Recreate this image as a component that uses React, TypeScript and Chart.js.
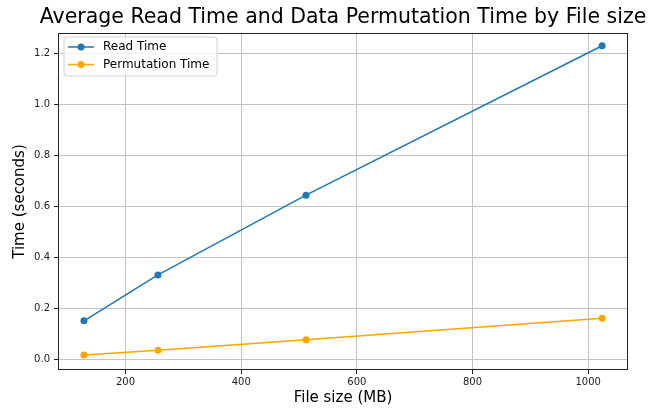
import { useEffect, useRef } from "react";
import { Chart, registerables } from "chart.js";

Chart.register(...registerables);

const fileSizes = [128, 256, 512, 1024];
const readTime = [0.153, 0.333, 0.646, 1.232];
const permTime = [0.019, 0.037, 0.079, 0.163];
const xTicks = [200, 400, 600, 800, 1000];
const yTicks = [0, 0.2, 0.4, 0.6, 0.8, 1.0, 1.2];
const seriesNames = ["Read Time", "Permutation Time"];
const seriesColors = ["#1f77b4", "#ffa500"];
const titleText = "Average Read Time and Data Permutation Time by File size";
const xLabel = "File size (MB)";
const yLabel = "Time (seconds)";

const FONT = "'DejaVu Sans', sans-serif";

export default function App() {
  const ref = useRef<HTMLCanvasElement | null>(null);

  useEffect(() => {
    document.body.style.margin = "0";
    const canvas = ref.current;
    if (!canvas) return;

    const overlay = {
      id: "overlay",
      afterDraw(chart: any) {
        const ctx = chart.ctx as CanvasRenderingContext2D;
        const a = chart.chartArea;
        ctx.save();
        // frame
        ctx.strokeStyle = "#222";
        ctx.lineWidth = 1;
        ctx.strokeRect(a.left + 0.5, a.top + 0.5, a.right - a.left - 1, a.bottom - a.top - 1);
        // title
        ctx.fillStyle = "#000";
        ctx.textAlign = "center";
        ctx.textBaseline = "middle";
        ctx.font = `20.5px ${FONT}`;
        ctx.fillText(titleText, (a.left + a.right) / 2, 18);
        // x label
        ctx.font = `15px ${FONT}`;
        ctx.fillText(xLabel, (a.left + a.right) / 2, 398);
        // y label
        ctx.save();
        ctx.translate(20, (a.top + a.bottom) / 2);
        ctx.rotate(-Math.PI / 2);
        ctx.fillText(yLabel, 0, 0);
        ctx.restore();
        // legend
        const lx = a.left + 6;
        const ly = a.top + 4;
        const lw = 153;
        const lh = 39;
        ctx.beginPath();
        const r = 3;
        ctx.moveTo(lx + r, ly);
        ctx.lineTo(lx + lw - r, ly);
        ctx.quadraticCurveTo(lx + lw, ly, lx + lw, ly + r);
        ctx.lineTo(lx + lw, ly + lh - r);
        ctx.quadraticCurveTo(lx + lw, ly + lh, lx + lw - r, ly + lh);
        ctx.lineTo(lx + r, ly + lh);
        ctx.quadraticCurveTo(lx, ly + lh, lx, ly + lh - r);
        ctx.lineTo(lx, ly + r);
        ctx.quadraticCurveTo(lx, ly, lx + r, ly);
        ctx.closePath();
        ctx.fillStyle = "rgba(255,255,255,0.8)";
        ctx.fill();
        ctx.strokeStyle = "#d0d0d0";
        ctx.stroke();
        ctx.font = `12px ${FONT}`;
        ctx.textAlign = "left";
        seriesNames.forEach((name, i) => {
          const y = ly + 10 + i * 17.5;
          ctx.strokeStyle = seriesColors[i];
          ctx.lineWidth = 1.5;
          ctx.beginPath();
          ctx.moveTo(lx + 4, y);
          ctx.lineTo(lx + 30, y);
          ctx.stroke();
          ctx.fillStyle = seriesColors[i];
          ctx.beginPath();
          ctx.arc(lx + 17, y, 3.5, 0, Math.PI * 2);
          ctx.fill();
          ctx.fillStyle = "#000";
          ctx.fillText(name, lx + 39, y);
        });
        ctx.restore();
      },
    };

    const chart = new Chart(canvas, {
      type: "line",
      data: {
        datasets: [
          {
            label: seriesNames[0],
            data: fileSizes.map((x, i) => ({ x, y: readTime[i] })),
            borderColor: seriesColors[0],
            backgroundColor: seriesColors[0],
            borderWidth: 1.5,
            pointRadius: 3.5,
            pointBorderWidth: 0,
            tension: 0,
          },
          {
            label: seriesNames[1],
            data: fileSizes.map((x, i) => ({ x, y: permTime[i] })),
            borderColor: seriesColors[1],
            backgroundColor: seriesColors[1],
            borderWidth: 1.5,
            pointRadius: 3.5,
            pointBorderWidth: 0,
            tension: 0,
          },
        ],
      },
      options: {
        responsive: false,
        animation: false,
        devicePixelRatio: 1,
        layout: { padding: { top: 33, right: 35, left: 0, bottom: 0 } },
        plugins: {
          legend: { display: false },
          title: { display: false },
          tooltip: { enabled: false },
        },
        scales: {
          x: {
            type: "linear",
            min: 83.2,
            max: 1068.8,
            afterBuildTicks: (s: any) => {
              s.ticks = xTicks.map((v) => ({ value: v }));
            },
            afterFit: (s: any) => {
              s.height = 41;
            },
            ticks: {
              font: { family: FONT, size: 10 },
              color: "#222",
              padding: 2,
              maxRotation: 0,
              callback: (v: any) => String(v),
            },
            grid: {
              color: "#c4c4c4",
              lineWidth: 1,
              tickLength: 4,
              tickColor: "#222",
              drawTicks: true,
            },
            border: { display: false },
          },
          y: {
            type: "linear",
            min: -0.04,
            max: 1.282,
            afterBuildTicks: (s: any) => {
              s.ticks = yTicks.map((v) => ({ value: v }));
            },
            afterFit: (s: any) => {
              s.width = 58;
            },
            ticks: {
              font: { family: FONT, size: 10 },
              color: "#222",
              padding: 4,
              callback: (v: any) => Number(v).toFixed(1),
            },
            grid: {
              color: "#c4c4c4",
              lineWidth: 1,
              tickLength: 4,
              tickColor: "#222",
              drawTicks: true,
            },
            border: { display: false },
          },
        },
      },
      plugins: [overlay],
    });

    return () => chart.destroy();
  }, []);

  return <canvas ref={ref} width={663} height={411} style={{ display: "block" }} />;
}
